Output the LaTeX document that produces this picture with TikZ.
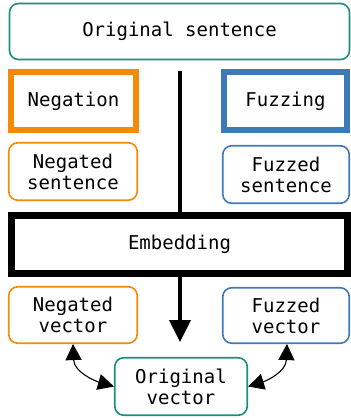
\documentclass[tikz,border=0pt]{standalone}
\usepackage{fontspec}
\newfontfamily\monof{DejaVu Sans Mono}
\usetikzlibrary{arrows.meta}
\definecolor{tealc}{HTML}{17907E}
\definecolor{orangec}{HTML}{F58A07}
\definecolor{bluec}{HTML}{3F7AB8}
\tikzset{
  box/.style={draw, inner sep=0pt, align=center, font=\monof\fontsize{19}{21}\selectfont},
  thinbox/.style={box, line width=1.6pt, rounded corners=9pt},
  thickbox/.style={box, line width=6pt},
  dblarrow/.style={line width=1.1pt, {Triangle[length=16pt,width=16pt]}-{Triangle[length=16pt,width=16pt]}},
}
\begin{document}
\begin{tikzpicture}[x=1pt,y=-1pt]
\useasboundingbox (0,0) rectangle (351,418);
\node[thinbox, draw=tealc, minimum width=340pt, minimum height=56pt] (os) at (179.5,31.5) {Original sentence};
\node[thickbox, draw=orangec, minimum width=125pt, minimum height=58pt] (neg) at (73.5,101) {Negation};
\node[thickbox, draw=bluec, minimum width=123pt, minimum height=58pt] (fuz) at (285.5,101) {Fuzzing};
\node[thinbox, draw=orangec, minimum width=128.5pt, minimum height=57.5pt] (ns) at (73,171.5) {Negated\\sentence};
\node[thinbox, draw=bluec, minimum width=126.5pt, minimum height=57.5pt] (fs) at (286,174.5) {Fuzzed\\sentence};
\node[box, line width=7pt, minimum width=336pt, minimum height=58pt] (emb) at (179.5,244.5) {Embedding};
\node[thinbox, draw=orangec, minimum width=128.5pt, minimum height=56.5pt] (nv) at (73,315) {Negated\\vector};
\node[thinbox, draw=bluec, minimum width=126.5pt, minimum height=55.5pt] (fv) at (286,315.5) {Fuzzed\\vector};
\node[thinbox, draw=tealc, minimum width=132.5pt, minimum height=57.5pt] (ov) at (181,386.5) {Original\\vector};
\coordinate (vtop) at (180,71);
\coordinate (vtip) at (180,342);
\draw[line width=4pt] (vtop) -- (vtop |- emb.north);
\draw[line width=4pt, -{Triangle[length=22pt,width=21pt]}] (vtip |- emb.south) -- (vtip);
\draw[dblarrow] (nv.south) .. controls (74,372) and (95,381) .. (ov.west);
\draw[dblarrow] ([xshift=1pt]fv.south) .. controls (286,372) and (266,381) .. (ov.east);
\end{tikzpicture}
\end{document}
